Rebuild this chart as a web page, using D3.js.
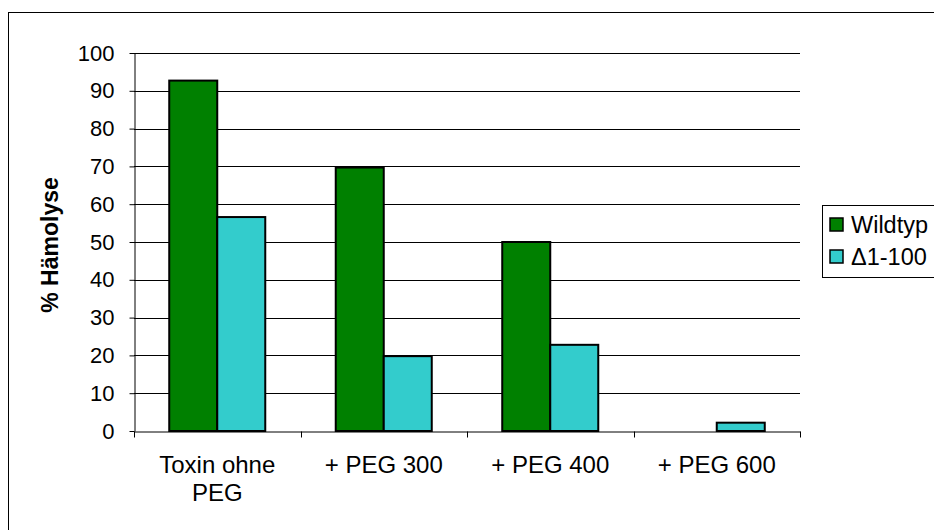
<!DOCTYPE html>
<html>
<head>
<meta charset="utf-8">
<script src="https://cdn.jsdelivr.net/npm/d3@7"></script>
<style>
  html, body { margin: 0; padding: 0; background: #fff; }
  svg { display: block; font-family: "Liberation Sans", Arial, sans-serif; }
</style>
</head>
<body>
<svg id="chart" width="934" height="530"></svg>
<script>
// Hämolyse in Prozent, je Ansatz und Toxin-Variante
const categories = [["Toxin ohne", "PEG"], ["+ PEG 300"], ["+ PEG 400"], ["+ PEG 600"]];
const seriesNames = ["Wildtyp", "\u03941-100"];
const wildtyp = [92.7, 69.7, 50.0, 0];
const delta = [56.6, 19.8, 22.8, 2.2];
const yTicks = [0, 10, 20, 30, 40, 50, 60, 70, 80, 90, 100];
const colors = ["#008000", "#33CCCC"];

const svg = d3.select("#chart");
const catKeys = categories.map(c => c.join(" "));
const values = [wildtyp, delta];

// Outer chart frame
svg.append("rect")
  .attr("x", 8.5).attr("y", 12.5)
  .attr("width", 1000).attr("height", 1000)
  .attr("fill", "none").attr("stroke", "#000").attr("stroke-width", 1);

const y = d3.scaleLinear().domain([0, 100]).range([431, 53]);
const x0 = d3.scaleBand().domain(catKeys).range([134, 800]).padding(0);
const x1 = d3.scaleBand().domain(seriesNames)
  .range([0, x0.bandwidth()]).paddingInner(0).paddingOuter(0.734);

// Horizontal gridlines
svg.append("g")
  .selectAll("line")
  .data(yTicks.filter(t => t > 0))
  .join("line")
  .attr("x1", 134).attr("x2", 800)
  .attr("y1", d => Math.round(y(d)) + 0.5)
  .attr("y2", d => Math.round(y(d)) + 0.5)
  .attr("stroke", "#000").attr("stroke-width", 1);

// Bars
const groups = svg.append("g")
  .selectAll("g")
  .data(catKeys)
  .join("g")
  .attr("transform", d => `translate(${x0(d)},0)`);

groups.selectAll("rect")
  .data((d, i) => seriesNames.map((s, j) => ({ s, j, v: values[j][i] })))
  .join("rect")
  .attr("x", d => x1(d.s))
  .attr("y", d => y(d.v))
  .attr("width", x1.bandwidth())
  .attr("height", d => y(0) - y(d.v))
  .attr("fill", d => colors[d.j])
  .attr("stroke", d => d.v > 0 ? "#000" : "none")
  .attr("stroke-width", 2);

// Y axis
const yAxis = d3.axisLeft(y).tickValues(yTicks).tickSizeOuter(0).tickSizeInner(5).tickPadding(15);
const gy = svg.append("g").attr("transform", "translate(134.5,0)").call(yAxis);
gy.select(".domain").attr("stroke", "#000");
gy.selectAll(".tick line").attr("stroke", "#000");
gy.selectAll(".tick text")
  .attr("fill", "#000")
  .style("font-size", "22px")
  .style("font-family", "'Liberation Sans', Arial, sans-serif");

// X axis: baseline plus ticks at category boundaries
const xAxis = d3.axisBottom(x0).tickSize(0).tickFormat("");
const gx = svg.append("g").attr("transform", `translate(0,${Math.round(y(0)) + 0.5})`).call(xAxis);
gx.select(".domain").attr("stroke", "#000");
const bounds = catKeys.map(k => x0(k)).concat([x0.range()[1]]);
gx.selectAll(".bound")
  .data(bounds)
  .join("line")
  .attr("class", "bound")
  .attr("x1", d => Math.round(d) + 0.5).attr("x2", d => Math.round(d) + 0.5)
  .attr("y1", 0).attr("y2", 6)
  .attr("stroke", "#000");

// Category labels (multi-line)
const labels = svg.append("g")
  .selectAll("text")
  .data(categories)
  .join("text")
  .attr("text-anchor", "middle")
  .attr("font-size", "24px")
  .attr("fill", "#000")
  .attr("transform", (d, i) => `translate(${x0(catKeys[i]) + x0.bandwidth() / 2},473)`);
labels.selectAll("tspan")
  .data(d => d)
  .join("tspan")
  .attr("x", 0)
  .attr("y", (d, i) => i * 28)
  .text(d => d);

// Y axis title
svg.append("text")
  .attr("transform", "translate(58,245) rotate(-90)")
  .attr("text-anchor", "middle")
  .attr("font-size", "23px")
  .attr("font-weight", "bold")
  .attr("fill", "#000")
  .text("% Hämolyse");

// Legend
const legend = svg.append("g");
legend.append("rect")
  .attr("x", 822.5).attr("y", 205.5)
  .attr("width", 200).attr("height", 72)
  .attr("fill", "#fff").attr("stroke", "#000").attr("stroke-width", 1);
const items = legend.selectAll("g.item")
  .data(seriesNames)
  .join("g")
  .attr("class", "item")
  .attr("transform", (d, i) => `translate(830,${218 + i * 32})`);
items.append("rect")
  .attr("x", 0).attr("y", 0)
  .attr("width", 13).attr("height", 13)
  .attr("fill", (d, i) => colors[i])
  .attr("stroke", "#000").attr("stroke-width", 1.5);
items.append("text")
  .attr("x", 21).attr("y", 15)
  .attr("font-size", "23.5px")
  .attr("fill", "#000")
  .text(d => d);
</script>
</body>
</html>
